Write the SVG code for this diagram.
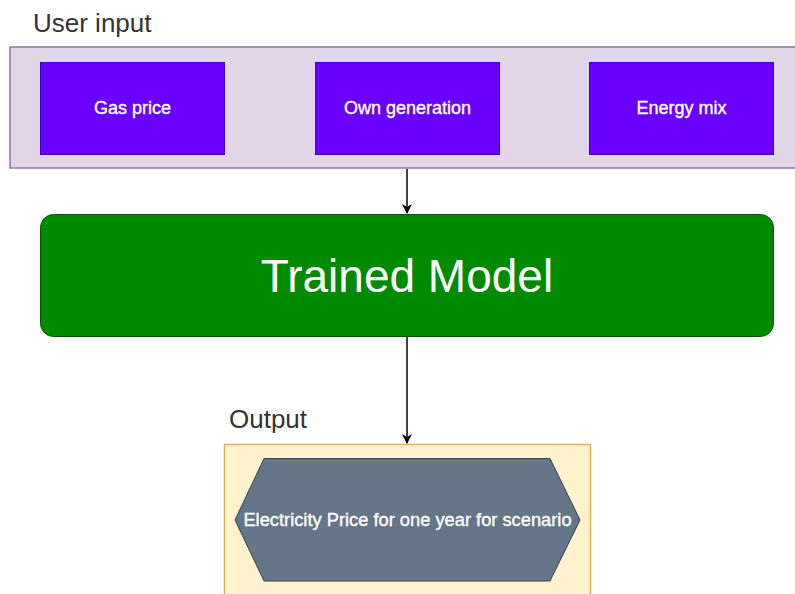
<svg xmlns="http://www.w3.org/2000/svg" width="795" height="594" viewBox="0 0 795 594">
<defs>
<style>
text{font-family:"Liberation Sans",Arial,sans-serif}
.lbl{font-size:26px;fill:#333333}
.inp{fill:#6a00ff;stroke:#3700cc;stroke-width:1}
.it{font-size:18px;fill:#ffffff;text-anchor:middle;stroke:#ffffff;stroke-width:0.35}
.edge{stroke:#000000;stroke-width:1.5;fill:none}
</style>
<marker id="arr" viewBox="0 0 10 10" refX="9" refY="5" markerWidth="10" markerHeight="10" markerUnits="userSpaceOnUse" orient="auto">
<path d="M0,0 L10,5 L0,10 L3,5 Z" fill="#000000"/>
</marker>
</defs>
<g id="user-input">
<rect x="10" y="47" width="800" height="121" fill="#e1d5e7" stroke="#9673a6" stroke-width="1.5"/>
<text class="lbl" x="33" y="32">User input</text>
</g>
<g id="gas-price">
<rect class="inp" x="40.5" y="62.5" width="184" height="92"/>
<text class="it" x="132.5" y="114">Gas price</text>
</g>
<g id="own-generation">
<rect class="inp" x="315.5" y="62.5" width="184" height="92"/>
<text class="it" x="407.5" y="114">Own generation</text>
</g>
<g id="energy-mix">
<rect class="inp" x="589.5" y="62.5" width="184" height="92"/>
<text class="it" x="681.5" y="114">Energy mix</text>
</g>
<g id="trained-model">
<rect x="40.5" y="214.5" width="733" height="122" rx="13" fill="#008a00" stroke="#005700" stroke-width="1"/>
<text x="407" y="292" font-size="46" fill="#ffffff" text-anchor="middle">Trained Model</text>
</g>
<g id="output">
<rect x="224.5" y="444.5" width="366" height="160" fill="#fff2cc" stroke="#d6b656" stroke-width="1.5"/>
<text class="lbl" x="229" y="428">Output</text>
</g>
<g id="electricity-price">
<polygon points="235,520 264,458.5 550,458.5 580,520 550,581 264,581" fill="#647687" stroke="#314354" stroke-width="1"/>
<text class="it" x="407.5" y="525.5" style="font-size:18.3px">Electricity Price for one year for scenario</text>
</g>
<g id="connectors">
<line class="edge" x1="407" y1="169" x2="407" y2="213" marker-end="url(#arr)"/>
<line class="edge" x1="407" y1="337" x2="407" y2="443" marker-end="url(#arr)"/>
</g>
</svg>
